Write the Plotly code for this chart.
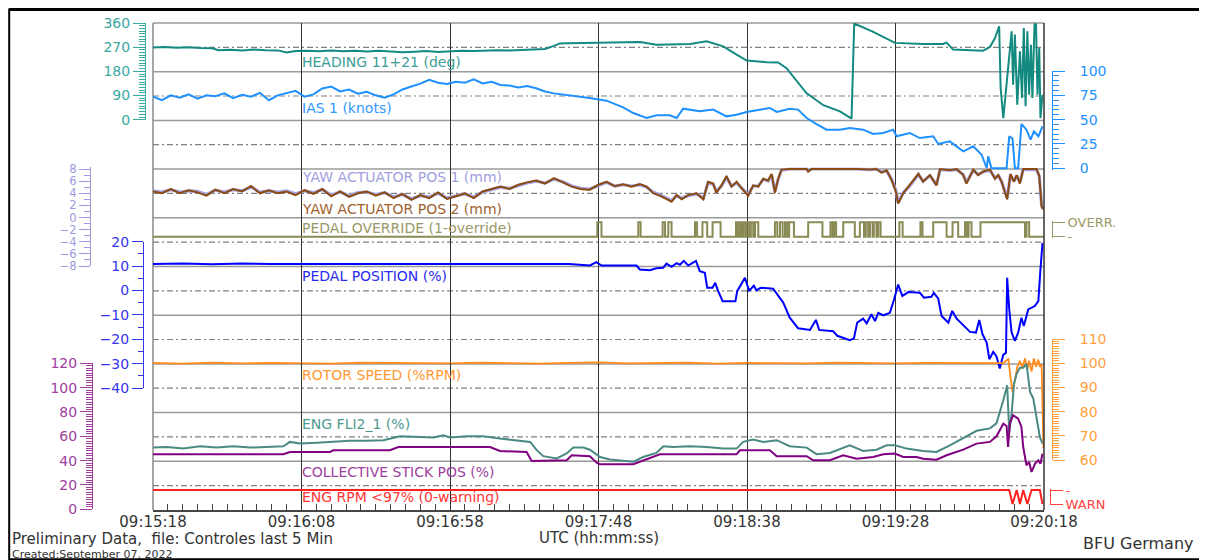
import plotly.graph_objects as go

FONT = "DejaVu Sans"

# ---------------- data (time = seconds after 09:15:18 UTC) ----------------
TIME_TICKS = [0, 50, 100, 150, 200, 250, 300]
TIME_LABELS = ["09:15:18", "09:16:08", "09:16:58", "09:17:48", "09:18:38", "09:19:28", "09:20:18"]

HEADING_T = [0, 4, 8, 12, 16, 20, 22, 26, 30, 34,
             38, 42, 45, 48, 52, 56, 60, 64, 68, 72,
             76, 80, 84, 88, 92, 96, 100, 104, 108, 112,
             116, 120, 124, 128, 132, 135, 137, 140, 144, 147.1,
             164, 169.5, 180.8, 186.4, 192, 196.5, 199.9, 206.6, 210.5, 213.3,
             220, 225.7, 231.3, 235.2, 236.1, 242.5, 249.8, 259.3, 266, 267.2,
             269.4, 279.5, 281.8, 283.5, 284.9, 285.4, 286.3, 289.1, 289.6, 290.2,
             291, 291.9, 292.6, 293.2, 293.8, 294.4, 295, 295.6, 296.1, 296.8,
             297.3, 297.8, 298.4, 298.8, 299.5]
HEADING_DEG = [269, 271, 268, 270, 267, 266, 259, 260, 258, 261,
               259, 258, 250, 256, 257, 255, 258, 255, 257, 254,
               257, 255, 251, 253, 256, 252, 255, 257, 256, 258,
               259, 258, 260, 262, 263, 275, 284, 285, 286, 286,
               289, 279, 282, 292, 273, 242, 220, 214, 213, 192,
               99, 54, 31, 4, 358, 327, 286, 282, 282, 287,
               261, 257, 271, 304, 348, 118, 6, 329, 130, 317,
               56, 255, 81, 341, 50, 329, 93, 279, 81, 354,
               358, 93, 267, 6, 93]

IAS_T = [0, 3, 6, 9, 12, 15, 18, 21, 24, 27,
         30, 33, 36, 39, 42, 45, 48, 51, 54, 57,
         60, 63, 66, 69, 72, 75, 78, 81, 84, 87,
         90, 93, 96, 99, 102, 105, 108, 111, 114, 117,
         120, 123, 126, 129, 132, 135, 138, 141, 144, 147,
         152.7, 158.3, 161.7, 166.2, 169.5, 174, 176.3, 178.5, 184.1, 188.6,
         193.1, 196.5, 199.9, 205.5, 207.7, 210, 214.4, 217.2, 220.1, 223.4,
         226.8, 231.3, 234.6, 239.1, 242.5, 245.9, 249.2, 250.4, 254.8, 258.2,
         262.7, 264.4, 268.3, 272.8, 276.2, 279, 280.7, 281.2, 282.3, 287.4,
         288.3, 289.4, 290.2, 291.3, 292.4, 294.1, 295.5, 296.6, 298.1, 299.5]
IAS_KN = [73.6, 70, 75, 72.6, 76, 71.6, 75, 74, 77, 72,
          75.6, 73.6, 77.6, 70, 75, 77.6, 79.6, 73.6, 76, 82,
          84, 79, 81, 76.6, 78.6, 75, 72.6, 76, 81, 84,
          87, 91, 88, 86.6, 89, 88, 91.4, 87.3, 89, 85.6,
          85, 83, 84.6, 82.3, 79, 77, 76, 74.5, 73.6, 72.3,
          69.5, 62.7, 56.8, 51.7, 54.5, 54.5, 51.7, 61.3, 58.6, 60.3,
          53.4, 55, 57.9, 60.3, 62, 57.9, 61.3, 60.3, 51.7, 45.5,
          39.7, 39.7, 41.4, 39.7, 35.3, 36.3, 39.7, 32.9, 36.3, 31.1,
          32.9, 25, 27.7, 17.5, 22.6, 14, 0.3, 12.3, 0, 0,
          32.9, 30.5, 0, 0, 45.5, 39.7, 29.5, 38, 32.9, 43.2]

YAW_T = [0, 3, 6, 9, 12, 15, 18, 21, 24, 27,
         30, 33, 36, 39, 42, 45, 48, 51, 54, 57,
         60, 63, 66, 69, 72, 75, 78, 81, 84, 87,
         90, 93, 96, 99, 102, 105, 108, 111, 114, 117,
         120, 123, 126, 129, 132, 135, 138, 141, 144, 147,
         150,
         152.7, 155.5, 158.3, 161.1, 163.9, 166.2, 168.4, 170.7, 172.9, 174.6,
         176.3, 178, 180.2, 183, 185.3, 186.9, 188.6, 189.7, 191.4, 193.1,
         194.8, 196.5, 198.2, 199.9, 200.4, 202.1, 203.8, 205.5, 207.1, 208.3,
         209.4, 210.5, 211.6, 214.4, 220.1, 220.6, 221.7, 236.9, 241.4, 243.6,
         245.3, 247, 248.7, 250.1, 250.9, 252.6, 254.8, 256.5, 257.7, 259.3,
         261.6, 263.8, 265, 268.3, 270.6, 272.8, 273.9, 276.2, 277.8, 279.5,
         281.8, 283.5, 284.6, 285.7, 286.8, 287.6, 288.7, 289.9, 290.8, 291.9,
         293, 297.5, 298.4, 299.2, 299.7]
YAW1_MM = [4.4, 4.2, 4.6, 4.2, 4.4, 4.3, 3.8, 4.5, 4.2, 4.6,
           4.4, 5.0, 4.2, 4.4, 4.2, 4.4, 3.9, 4.4, 4.1, 4.6,
           3.7, 4.2, 3.6, 4.1, 4.2, 3.8, 4.1, 3.4, 3.8, 3.1,
           3.6, 3.4, 4.0, 3.2, 3.6, 3.9, 3.4, 4.2, 4.6, 5.0,
           4.8, 5.3, 5.7, 6.0, 5.7, 6.3, 5.9, 5.2, 4.8, 4.7,
           5.3,
           5.8, 5.2, 5.4, 5.2, 5.4, 5.0, 4.2, 3.7, 3.2, 2.8,
           3.6, 3.2, 3.6, 3.9, 3.2, 5.7, 5.5, 4.3, 5.2, 6.6,
           5.2, 5.7, 4.9, 4.1, 3.8, 5.2, 5.2, 6.3, 6.0, 7.0,
           4.3, 6.3, 7.8, 8.0, 8.0, 7.7, 8.0, 8.0, 7.9, 8.0,
           7.5, 7.7, 6.3, 4.5, 2.5, 4.1, 5.2, 6.3, 7.1, 6.0,
           6.9, 5.4, 7.9, 7.8, 7.9, 7.1, 5.8, 7.8, 7.1, 7.5,
           7.8, 6.5, 6.9, 6.0, 4.2, 3.2, 7.0, 6.0, 6.9, 5.8,
           7.9, 7.9, 6.8, 2.0, 1.5]
YAW2_MM = [4.3, 4.0, 4.7, 4.0, 4.5, 4.15, 3.6, 4.6, 4.0, 4.7,
           4.3, 5.2, 4.0, 4.5, 4.0, 4.3, 3.7, 4.5, 3.9, 4.7,
           3.5, 4.3, 3.4, 4.0, 4.3, 3.6, 4.15, 3.2, 3.9, 2.9,
           3.7, 3.2, 4.15, 3.05, 3.5, 4.0, 3.2, 4.3, 4.7, 5.1,
           4.7, 5.4, 5.8, 6.1, 5.6, 6.5, 5.8, 5.1, 4.7, 4.6,
           5.4,
           5.9, 5.15, 5.5, 5.1, 5.5, 5.1, 4.0, 3.6, 3.0, 2.6,
           3.7, 3.0, 3.7, 4.0, 3.0, 5.9, 5.6, 4.1, 5.3, 6.8,
           5.1, 5.9, 4.8, 4.0, 3.6, 5.3, 5.1, 6.4, 6.1, 7.2,
           4.1, 6.4, 7.9, 8.0, 8.0, 7.6, 8.0, 8.0, 7.9, 8.0,
           7.4, 7.8, 6.2, 4.3, 2.3, 4.0, 5.3, 6.4, 7.2, 5.9,
           7.0, 5.3, 8.0, 7.8, 8.0, 7.0, 5.6, 7.9, 7.0, 7.6,
           7.9, 6.4, 7.0, 5.9, 4.0, 3.0, 7.2, 5.9, 7.0, 5.6,
           8.0, 8.0, 6.9, 1.8, 1.35]

OVR_T = [0,
         149.6, 151.0, 163.4, 164.2, 171.6, 172.4, 173.5, 174.6, 182.5, 183.2,
         185.0, 186.6, 188.4, 191.1, 196.3, 196.9, 197.6, 198.2, 198.7, 199.4,
         199.9, 200.7, 201.3, 202.1, 202.7, 203.8, 209.4, 210.2, 211.1, 212.0,
         212.8, 213.5, 214.2, 215.8, 220.6, 225.4, 228.1, 228.8, 229.3, 230.0,
         232.4, 236.3, 238.0, 239.4, 240.0, 240.8, 241.4, 242.3, 242.7, 243.6,
         244.2, 245.0, 251.3, 252.4, 258.4, 259.1, 262.7, 267.2, 269.2, 271.1,
         273.4, 274.1, 274.6, 275.6, 278.6, 293.6, 294.1, 295.0,
         300]
OVR_V = [0,
         1, 0, 1, 0, 1, 0, 1, 0, 1, 0,
         1, 0, 1, 0, 1, 0, 1, 0, 1, 0,
         1, 0, 1, 0, 1, 0, 1, 0, 1, 0,
         1, 0, 1, 0, 1, 0, 1, 0, 1, 0,
         1, 0, 1, 0, 1, 0, 1, 0, 1, 0,
         1, 0, 1, 0, 1, 0, 1, 0, 1, 0,
         1, 0, 1, 0, 1, 0, 1, 0,
         0]

PEDAL_T = [0, 10, 20, 30, 40, 50, 60, 70, 80, 90,
           100, 110, 120, 130, 140, 147.1,
           149.3, 151, 162.8, 163.9, 167.3, 169.5, 171.8, 172.9, 174.6, 176.3,
           177.4, 178.7, 180.2, 182.8, 184.1, 185.8, 186.6, 188.4, 189.3, 190.3,
           191.8, 196.1, 196.7, 199.3, 200.7, 202.3, 203.2, 204.6, 208.8, 212.2,
           214.4, 217.2, 221.2, 223.2, 224.3, 229, 230.4, 234.6, 236, 237.1,
           239.1, 240.3, 241.9, 243.1, 244.2, 245.9, 248.1, 249.5, 250.9, 252.3,
           254.3, 258.2, 259.6, 262.1, 262.9, 264.4, 265.5, 267.8, 269.1, 270.6,
           275.1, 277.1, 278.2, 279.3, 280.7, 281.6, 282.9, 284, 285.1, 286.3,
           287.2, 287.6, 288.3, 289.1, 290.2, 291.3, 292.4, 293.2, 294.7, 296.9,
           298.1, 298.8, 299.5]
PEDAL_PCT = [10.8, 11.0, 10.7, 11.0, 10.8, 10.8, 11.0, 10.7, 10.8, 11.0,
             10.8, 10.9, 10.7, 10.8, 10.8, 10.2,
             11.6, 10.2, 10.2, 8.6, 8.3, 9.1, 9.3, 11, 9.7, 11.2,
             10.5, 12.1, 10.2, 12.1, 7.9, 7.2, 1.1, 1.1, 3.1, -0.3,
             -4.4, -4.4, -0.3, 5.2, -0.1, 1.9, 0, 1.1, 0.7, -5,
             -11.2, -15.5, -16.2, -12.1, -16.2, -16.7, -18.6, -20.4, -19.7, -13.2,
             -11.6, -13.5, -9.8, -12.6, -9.2, -10.2, -9.2, -3.7, 2.4, -2.3,
             -0.7, -1.0, -3.0, -2.6, -1.0, -3.4, -10.5, -13.2, -8.4, -11.6,
             -17, -17.3, -12.1, -18, -21.4, -28.2, -25.2, -27.1, -32, -26.3,
             -25.6, 5.2, -7.8, -17.3, -20.7, -17.3, -11.2, -14.6, -7.8, -6.4,
             -4.4, 8.6, 19.5]

ROTOR_T = [0, 10, 20, 30, 40, 50, 60, 70, 80, 90,
           100, 110, 120, 130, 140, 150, 160, 170, 180, 190,
           200, 210, 220, 230, 240, 250, 260, 270, 280, 286.3,
           287.2, 288, 288.7, 289.4, 290.2, 291, 291.9, 292.7, 293.6, 294.4,
           295, 295.8, 296.6, 297.3, 298.1, 298.6, 299.2, 299.5, 299.8]
ROTOR_PCT = [100.1, 99.8, 100.2, 99.9, 100.1, 100, 99.8, 100.2, 100, 100.1,
             99.9, 100.2, 100, 99.8, 100.1, 100.3, 99.9, 100, 100.2, 99.8,
             100.1, 100, 99.9, 100.2, 100, 99.9, 100.1, 100, 100.1, 100,
             101, 101.7, 94.4, 88.2, 93, 98.5, 101, 98, 102, 97.5,
             101, 96.5, 102, 98.5, 101.5, 98.5, 99.5, 80.7, 65]

FLI_T = [0, 4.6, 10.2, 15.8, 21.4, 27, 32.7, 38.3, 43.9, 46.1,
         49.5, 55.1, 60.7, 66.3, 72, 77.6, 83.2, 88.8, 94.4, 97.8,
         100, 105.6, 111.2, 116.8, 122.5, 127, 129.2, 131.4, 135.9, 139.3,
         141.5, 144.9, 147.1,
         150.5, 153.8, 158.3, 161.7, 165, 169.5, 171.8, 175.2, 180.8,
         186.4, 192, 196.5, 198.7, 202.1, 205.5, 210, 214.4, 220.1, 223.4,
         227.9, 234.6, 239.1, 243.6, 247, 249.8, 253.7, 259.3, 263.8, 268.3,
         273.9, 277.3, 281.8, 284, 286.3, 287.6, 288.3, 289.1, 289.9, 290.8,
         291.9, 293, 294.1, 295.3, 296.4, 297.5, 298.6, 299.5]
FLI_PCT = [50.7, 51.3, 49.9, 51.8, 50.7, 51.8, 50.7, 51.3, 51.8, 55.4,
           54, 54.6, 55.4, 56.3, 56.3, 56.8, 60.1, 59.5, 59, 60.9,
           59, 60.1, 60.1, 58.2, 56.8, 55.4, 48.6, 43.7, 41.8, 45.9,
           50.7, 50.7, 49,
           43, 40.9, 39.8, 39, 43, 46.3, 51.8, 51.3, 51.8,
           51.3, 49.9, 49.9, 55.4, 57.3, 55.4, 56.8, 51.8, 50.7, 45.3,
           46.3, 52.6, 47.9, 49, 52.6, 52.6, 49.9, 47.9, 47.1, 52.6,
           60, 64.5, 66.5, 70.6, 89.6, 101.9, 63.5, 78.6, 103.3, 111.5,
           116.4, 116.4, 119.5, 96.4, 91, 73.1, 59.4, 54]

COLL_T = [0, 43.9, 46.1, 59.6, 60.7, 79.8, 82.6, 113.5, 116.8, 125.8,
          127.5, 139.3, 141, 147.1, 149.5, 150.5, 161.7, 163.9, 166.7, 170.7,
          196.5, 197.6, 207.7, 210, 220.1, 222.3, 227.9, 232.4, 236.9, 242.5,
          245.9, 249.8, 252.6, 257.1, 259.3, 263.8, 267.2, 272.8, 277.3, 281.8,
          284, 286.3, 287.4, 287.9, 288.5, 289.6, 291.3, 292.4, 293, 294.1,
          295, 295.8, 297, 298.1, 298.8, 299.5]
COLL_PCT = [45.2, 45.2, 47.1, 47.1, 48.5, 48.5, 51.2, 51.2, 47.9, 47.1,
            39.7, 40.3, 44.4, 43.6, 38.1, 37, 37, 39, 41.6, 45.2,
            45.2, 48.5, 48.5, 43.6, 43.6, 40.3, 40.3, 44.4, 41.6, 43,
            45.2, 45.8, 43, 43, 41.6, 40.8, 44.4, 49, 54, 55.4,
            60, 70.4, 68.5, 51.2, 70.4, 77.3, 74.5, 67.7, 51.2, 36.2,
            38.9, 30.7, 37.5, 40.3, 37.5, 45.8]

RPM_T = [0, 288.3, 289.4, 290.8, 291.9, 293, 294.4, 295.8, 298.6, 299.5]
RPM_V = [1, 1, 0, 1, 0, 1, 0, 1, 1, 0]

# ---------------- geometry helpers ----------------
# the page body has an 8px default margin, so the figure sits at (8, 8) on screen;
# helpers below take screen-pixel positions.
OFF = 8
W, H = 1199, 552
ML, MR, MT, MB = 12, 20, 15, 50
PW, PH = W - ML - MR, H - MT - MB


def fx(px):
    return (px - OFF - ML) / PW


def fy(py):
    return (H - MB - (py - OFF)) / PH


C_HEAD, C_HEAD_AX = "#138a80", "#3aaaa0"
C_IAS = "#1e90ff"
C_YAW1, C_YAW2 = "#a4a4e6", "#8b4a10"
C_OVR = "#8a8a55"
C_PED, C_PED_AX = "#0000ff", "#3535f0"
C_ROT = "#ff8c1a"
C_FLI = "#4a8a82"
C_COL, C_COL_AX = "#800080", "#a040a0"
C_RPM = "#ff2020"
TICK_SIZE = 14


def line(t, v, yax, color, width=2.0, shape="linear"):
    return go.Scatter(x=t, y=v, xaxis="x", yaxis=yax, mode="lines",
                      line=dict(color=color, width=width, shape=shape),
                      showlegend=False, hoverinfo="skip")


def yax(dom, rng, pos, side, color, ticklen, dtick=None, tick0=0,
        minor=None, minor_len=5, tickvals=None, ticktext=None, standoff=None,
        size=TICK_SIZE):
    d = dict(domain=dom, range=rng, anchor="free", position=pos, side=side,
             automargin=False,
             showgrid=False, zeroline=False, showline=True, linecolor=color,
             linewidth=1, ticks="outside", ticklen=ticklen, tickcolor=color,
             tickwidth=1, tickfont=dict(family=FONT, size=size, color=color),
             fixedrange=True)
    if tickvals is not None:
        d.update(tickmode="array", tickvals=tickvals, ticktext=ticktext)
    else:
        d.update(tickmode="linear", tick0=tick0, dtick=dtick)
    if minor:
        d["minor"] = dict(dtick=minor, tick0=tick0, ticks="outside",
                          ticklen=minor_len, tickcolor=color, showgrid=False)
    if standoff is not None:
        d["ticklabelstandoff"] = standoff
    return d


fig = go.Figure()
# invisible trace that anchors the full-height base subplot (time axis + vertical grid)
fig.add_trace(go.Scatter(x=[TIME_TICKS[0], TIME_TICKS[-1]], y=[0.5, 0.5], xaxis="x", yaxis="y",
                         mode="lines", line=dict(color="rgba(0,0,0,0)", width=0),
                         showlegend=False, hoverinfo="skip"))
fig.add_trace(line(HEADING_T, HEADING_DEG, "y2", C_HEAD))
fig.add_trace(line(IAS_T, IAS_KN, "y3", C_IAS))
fig.add_trace(line(YAW_T, YAW1_MM, "y4", C_YAW1, 3.2))
fig.add_trace(line(YAW_T, YAW2_MM, "y4", C_YAW2, 2))
fig.add_trace(line(OVR_T, OVR_V, "y5", C_OVR, 2, "hv"))
fig.add_trace(line(PEDAL_T, PEDAL_PCT, "y6", C_PED))
fig.add_trace(line(ROTOR_T, ROTOR_PCT, "y7", C_ROT, 1.8))
fig.add_trace(line(FLI_T, FLI_PCT, "y8", C_FLI))
fig.add_trace(line(COLL_T, COLL_PCT, "y8", C_COL))
fig.add_trace(line(RPM_T, RPM_V, "y9", C_RPM))

X0, X1 = 153, 1044
layout = dict(
    width=W, height=H,
    margin=dict(l=ML, r=MR, t=MT, b=MB, pad=0, autoexpand=False),
    paper_bgcolor="white", plot_bgcolor="rgba(0,0,0,0)",
    showlegend=False,
    font=dict(family=FONT, size=13, color="#333"),
    xaxis=dict(domain=[fx(X0), fx(X1)], range=[0, 300], anchor="y",
               automargin=False,
               tickmode="array", tickvals=TIME_TICKS, ticktext=TIME_LABELS,
               ticks="inside", ticklen=6, tickcolor="#444",
               ticklabelstandoff=-3,
               showgrid=True, gridcolor="#333", gridwidth=1,
               showline=True, linecolor="#444", linewidth=1.5,
               zeroline=False, fixedrange=True,
               tickfont=dict(family=FONT, size=15, color="#333"),
               minor=dict(dtick=5, tick0=0, ticks="inside", ticklen=6,
                          tickcolor="#444", showgrid=False)),
    yaxis=dict(domain=[0, 1], range=[0, 1], showgrid=False, zeroline=False,
               automargin=False,
               showline=False, showticklabels=False, ticks="", fixedrange=True),
    yaxis2=yax([fy(119.7), fy(23)], [0, 360], fx(145), "left", C_HEAD_AX, 12,
               dtick=90, minor=10, minor_len=6),
    yaxis3=yax([fy(170.25), fy(71)], [-2, 100], fx(1052), "right", C_IAS, 12,
               dtick=25, minor=5, minor_len=6, standoff=12),
    yaxis4=yax([fy(266), fy(167.2)], [-8, 8.3], fx(90), "left", "#9a9adc", 11,
               dtick=2, tick0=-8, minor=1, minor_len=6, size=11.5),
    yaxis5=yax([fy(238.1), fy(220.9)], [-0.1, 1.1], fx(1052), "right", "#9a9a66", 12,
               tickvals=[0, 1], ticktext=["-", "OVERR."], size=13),
    yaxis6=yax([fy(388), fy(241.6)], [-40, 20], fx(143), "left", C_PED_AX, 11,
               dtick=10, tick0=-40, minor=5, minor_len=5),
    yaxis7=yax([fy(460), fy(339)], [60, 110], fx(1052), "right", "#ffa040", 12,
               dtick=10, tick0=60, minor=1, minor_len=6, standoff=12),
    yaxis8=yax([fy(509.3), fy(363.3)], [0, 120], fx(92), "left", C_COL_AX, 12,
               dtick=20, minor=2, minor_len=6),
    yaxis9=yax([fy(505.4), fy(488.6)], [-0.1, 1.1], fx(1050), "right", "#ff4040", 12,
               tickvals=[0, 1], ticktext=["WARN", "-"], size=13),
)
fig.update_layout(**layout)

# horizontal band lines
shapes = []
SOLID_Y = [23, 71.7, 120.4, 169.1, 217.8, 266.5, 315.2, 363.9, 412.6, 461.3]
DASH_Y = [47.3, 96.0, 144.7, 193.4, 242.1, 290.8, 339.5, 388.2, 436.9, 485.6]
for yy in SOLID_Y:
    shapes.append(dict(type="line", xref="paper", yref="paper", x0=fx(X0), x1=fx(X1),
                       y0=fy(yy), y1=fy(yy), line=dict(color="#9a9a9a", width=1.5), layer="below"))
for yy in DASH_Y:
    shapes.append(dict(type="line", xref="paper", yref="paper", x0=fx(X0), x1=fx(X1),
                       y0=fy(yy), y1=fy(yy), line=dict(color="#808080", width=1.2, dash="6px,3px,2px,3px"),
                       layer="below"))
shapes.append(dict(type="line", xref="paper", yref="paper", x0=fx(X0), x1=fx(X0), y0=0, y1=1,
                   line=dict(color="#8a8a8a", width=1.5), layer="below"))
shapes.append(dict(type="line", xref="paper", yref="paper", x0=fx(X1), x1=fx(X1), y0=0, y1=1,
                   line=dict(color="#333", width=1.5), layer="above"))
# outer frame (left edge kept inside the visible figure area)
shapes.append(dict(type="rect", xref="paper", yref="paper", x0=fx(9.2), x1=fx(1204),
                   y0=fy(559.2), y1=fy(9.5), line=dict(color="black", width=2), layer="above"))
shapes.append(dict(type="line", xref="paper", yref="paper", x0=fx(9.2), x1=fx(1204),
                   y0=fy(9.5), y1=fy(9.5), line=dict(color="black", width=3), layer="above"))
fig.update_layout(shapes=shapes)

LABELS = [
    ("HEADING 11+21 (deg)", 61.5, "#3a9e95"),
    ("IAS 1 (knots)", 108.3, "#3399ff"),
    ("YAW ACTUATOR POS 1 (mm)", 176.7, "#a0a0e0"),
    ("YAW ACTUATOR POS 2 (mm)", 209, "#a0622d"),
    ("PEDAL OVERRIDE (1-override)", 228.3, "#999966"),
    ("PEDAL POSITION (%)", 276, "#2b2bf0"),
    ("ROTOR SPEED (%RPM)", 375, "#ff9933"),
    ("ENG FLI2_1 (%)", 423.5, "#4d9990"),
    ("COLLECTIVE STICK POS (%)", 471.5, "#a040a0"),
    ("ENG RPM <97% (0-warning)", 497.3, "#ff3333"),
]
ann = []
for txt, yy, col in LABELS:
    ann.append(dict(text=txt, xref="x", yref="paper", x=49.6, y=fy(yy),
                    xanchor="left", yanchor="middle", showarrow=False,
                    font=dict(family=FONT, size=14, color=col)))
ann += [
    dict(text="UTC (hh:mm:ss)", xref="paper", yref="paper", x=fx(598.5), y=fy(538),
         xanchor="center", yanchor="middle", showarrow=False,
         font=dict(family=FONT, size=15, color="#333")),
    dict(text="Preliminary Data,\u00a0 file: Controles last 5 Min", xref="paper", yref="paper",
         x=fx(11), y=fy(538.5), xanchor="left", yanchor="middle", showarrow=False,
         borderpad=0, font=dict(family=FONT, size=15, color="#333")),
    dict(text="Created:September 07, 2022", xref="paper", yref="paper",
         x=fx(11), y=fy(554.3), xanchor="left", yanchor="middle", showarrow=False,
         borderpad=0, font=dict(family=FONT, size=11, color="#333")),
    dict(text="BFU Germany", xref="paper", yref="paper", x=fx(1196), y=fy(543),
         xanchor="right", yanchor="middle", showarrow=False,
         font=dict(family=FONT, size=16, color="#333")),
]
fig.update_layout(annotations=ann)

fig.write_html("out.html")
